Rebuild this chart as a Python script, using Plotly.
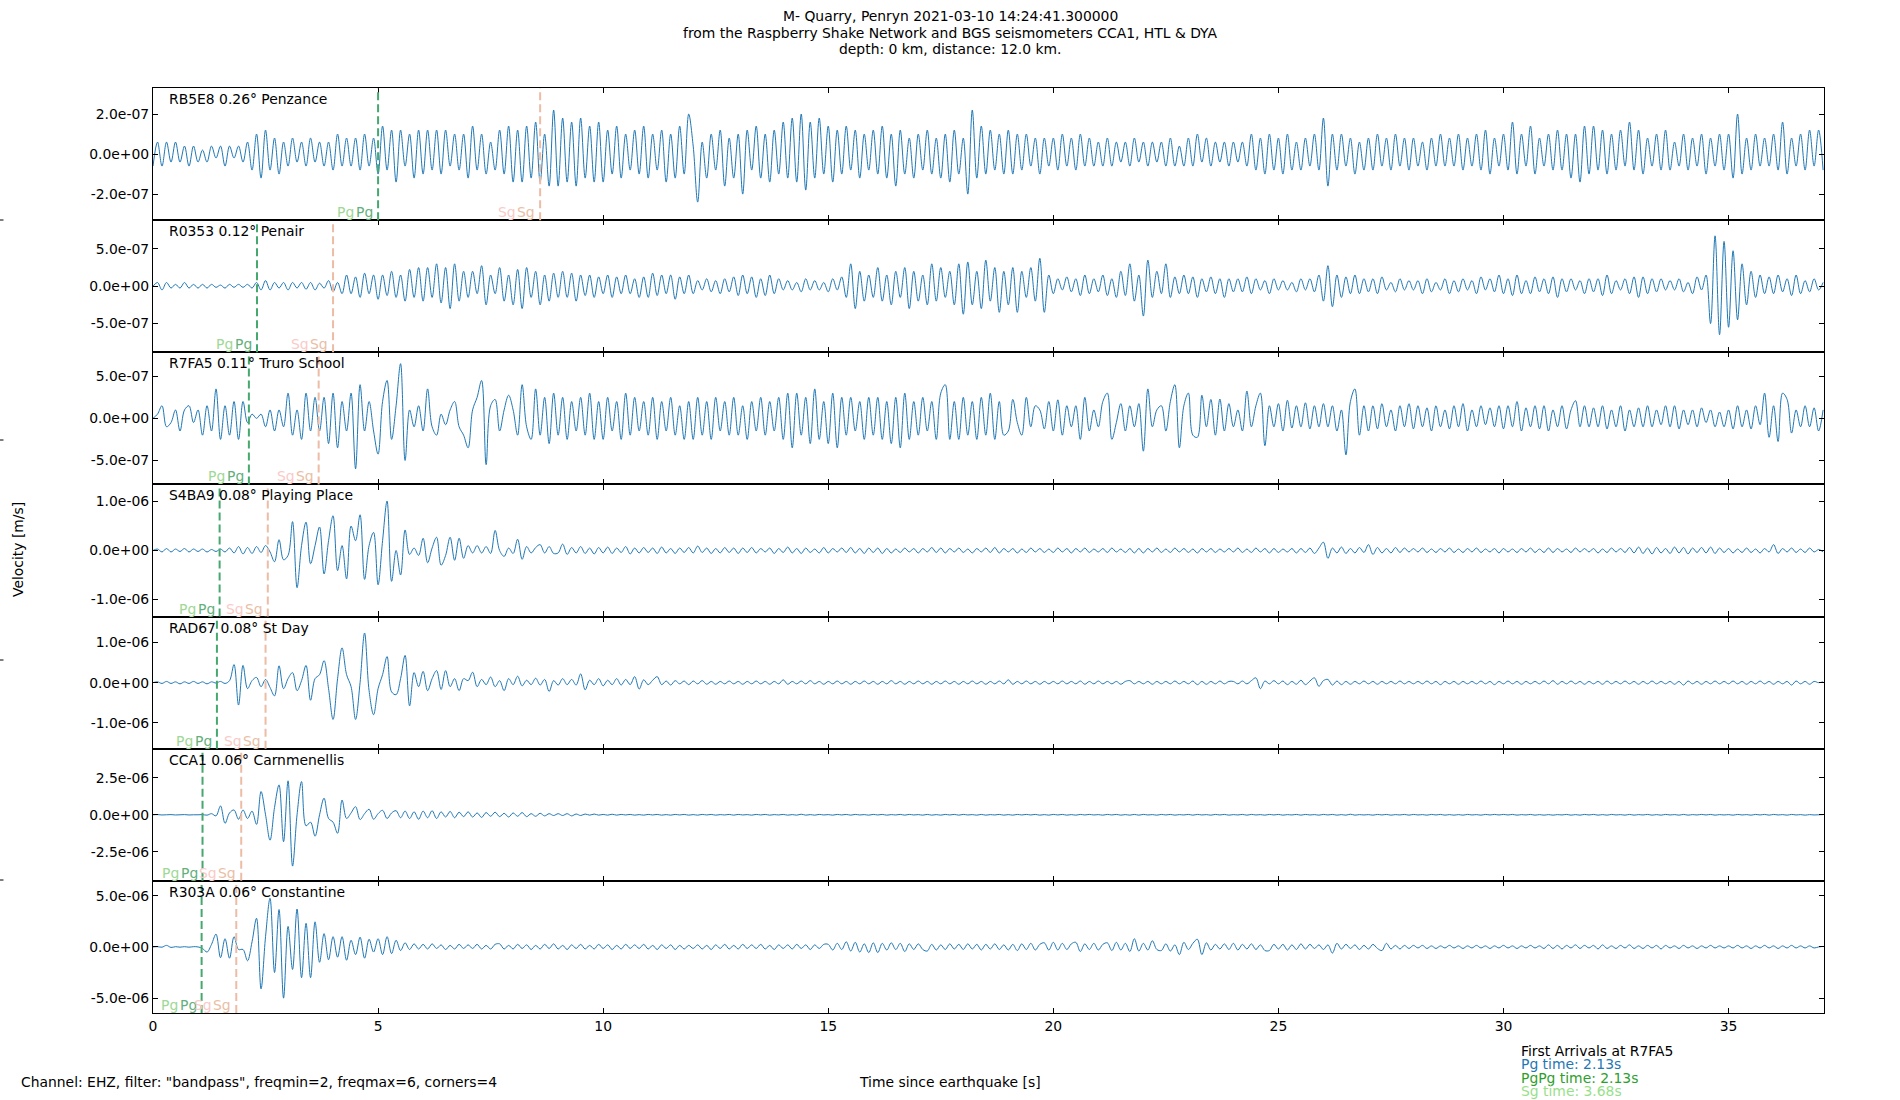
import numpy as np
import plotly.graph_objects as go
from plotly.subplots import make_subplots

# extrema, one every DT seconds, in "units" (one y tick = 10 units)
DT = 0.1

STATIONS = [
    "RB5E8 0.26° Penzance",
    "R0353 0.12° Penair",
    "R7FA5 0.11° Truro School",
    "S4BA9 0.08° Playing Place",
    "RAD67 0.08° St Day",
    "CCA1 0.06° Carnmenellis",
    "R303A 0.06° Constantine",
]
PG_TIMES = [5.0, 2.31, 2.13, 1.48, 1.42, 1.10, 1.08]
SG_TIMES = [8.6, 4.0, 3.68, 2.55, 2.5, 1.96, 1.85]
UNITS = [2e-8, 5e-8, 5e-8, 1e-7, 1e-7, 2.5e-7, 5e-7]
Y_LIMITS = [16.5, 17.7, 15.7, 13.5, 16.5, 17.9, 12.9]
X_TICKS = [0, 5, 10, 15, 20, 25, 30, 35]

PENZANCE = [
    -3, 3, -3, 3, -2, 3, -2, 2, -3, 2,
    -2, 1, -2, 2, -1, 2, -3, 2, -1, 2,
    -2, 3, -4, 5, -6, 6, -4, 4, -5, 3,
    -3, 4, -2, 3, -3, 4, -2, 3, -3, 3,
    -4, 5, -3, 4, -3, 4, -4, 5, -3, 4,
    -5, 7, -4, 6, -7, 6, -3, 5, -6, 6,
    -5, 6, -4, 6, -5, 6, -3, 5, -4, 5,
    -6, 7, -4, 5, -5, 3, -4, 6, -5, 7,
    -7, 6, -7, 7, -6, 8, -7, 5, -8, 11,
    -8, 9, -7, 8, -8, 9, -6, 7, -7, 8,
    -7, 6, -5, 7, -6, 5, -4, 6, -5, 7,
    -6, 5, -4, 6, -7, 5, -6, 7, -5, 10,
    2, -12, 3, -6, 5, -4, 6, -8, 4, -6,
    5, -10, 6, -4, 7, -6, 5, -7, 6, -5,
    8, -6, 9, -7, 10, -9, 8, -6, 9, -5,
    7, -7, 6, -5, 7, -4, 6, -6, 5, -4,
    6, -5, 7, -6, 5, -8, 6, -5, 4, -6,
    5, -4, 6, -5, 4, -6, 5, -7, 6, -5,
    4, -10, 11, -6, 7, -5, 6, -4, 5, -5,
    6, -5, 5, -4, 5, -3, 4, -5, 4, -3,
    4, -4, 5, -3, 4, -4, 5, -3, 4, -3,
    3, -3, 4, -3, 3, -2, 3, -3, 4, -2,
    3, -3, 3, -2, 3, -3, 4, -3, 2, -3,
    4, -3, 5, -2, 4, -3, 3, -2, 3, -3,
    3, -2, 3, -3, 5, -4, 4, -5, 5, -4,
    4, -5, 5, -4, 3, -4, 4, -3, 5, -4,
    9, -8, 5, -4, 5, -3, 4, -5, 3, -4,
    4, -4, 5, -3, 4, -4, 5, -3, 4, -4,
    4, -3, 3, -4, 4, -3, 5, -3, 4, -3,
    5, -4, 4, -3, 5, -4, 6, -5, 4, -3,
    5, -4, 8, -5, 5, -3, 7, -5, 4, -3,
    5, -4, 6, -4, 5, -6, 5, -7, 7, -5,
    7, -4, 6, -5, 5, -4, 6, -3, 8, -4,
    6, -5, 4, -3, 5, -4, 6, -4, 3, -3,
    5, -4, 4, -3, 5, -5, 4, -3, 5, -4,
    5, -6, 10, -5, 4, -4, 5, -3, 4, -3,
    5, -4, 8, -5, 4, -3, 5, -4, 6, -3,
    6, -4,
]

PENAIR = [
    0, 1, -1, 1, -0.5, 0.5, -0.5, 1, -0.5, 0.5,
    -0.5, 0.5, -0.5, 0.5, -0.3, 0.3, -0.5, 0.5, -0.3, 0.5,
    -0.3, 0.5, -0.5, 1, -1, 1.5, -1, 1, -0.5, 1,
    -1, 1, -0.5, 1, -0.8, 1, -1, 0.8, -0.5, 1.5,
    -1.5, 1, -2, 3, -2, 2.5, -3, 3.5, -2, 3,
    -3.5, 3, -2.5, 4, -3, 3, -4, 4.5, -3, 5,
    -4, 5, -3, 6, -4.5, 5, -6, 6, -4, 4,
    -3, 4, -2, 5.5, -5, 3, -2, 5, -4, 3,
    -5, 4.5, -6, 5, -3, 4, -5, 3, -4, 3.5,
    -3, 4, -3, 3.5, -4, 3, -2.5, 3, -3, 2.5,
    -2, 3, -3, 2.5, -2, 3, -2, 2, -3, 2.5,
    -3, 3.5, -2.5, 3, -2, 3, -3.5, 2.5, -2, 3,
    -2, 1.5, -1, 2, -1.5, 1.5, -2, 2, -1.5, 2.5,
    -2.5, 3, -2, 2.5, -3, 2, -2.5, 3, -2, 2,
    -1, 1.5, -1, 1, -1.5, 2, -1, 1.5, -1, 1,
    -1.5, 2, -1, 2.5, -3, 6, -6, 4, -4, 3,
    -3, 5, -4, 3, -5, 4, -3, 5, -6, 4,
    -4, 3, -5, 6, -4, 5, -3, 4, -5, 6,
    -7.5, 6.5, -5, 4, -6, 7, -4, 5, -7, 4,
    -5, 5, -7, 4, -3, 5, -4, 7.5, -7, 3,
    -2, 2, -1, 2.5, -1.5, 2, -2.5, 3, -2, 2,
    -1.5, 3, -2.5, 2, -3, 4, -2.5, 6, -4, 3,
    -8, 7, -3, 4, -2, 6, -3, 2.5, -2, 3,
    -2, 2.5, -3, 2, -1.5, 2.5, -2, 2, -3, 2,
    -1.5, 2, -1.5, 2.5, -2, 2, -1, 1.5, -2, 2,
    -1, 1.5, -1, 1, -1.5, 2, -1, 2, -1.5, 3,
    -4, 5.5, -5.5, 3, -3, 2.5, -2, 3, -2, 2,
    -1.5, 2, -2, 2.5, -1, 1, -1.5, 2, -1, 1.5,
    -1, 1.5, -2, 2, -1.5, 1, -1, 2, -2, 1.5,
    -1.5, 2, -1, 1.5, -2, 2.5, -1, 2, -1.5, 3,
    -2, 2, -2.5, 3, -2, 1.5, -2, 2.5, -1.5, 2,
    -2, 2.5, -3, 2, -1.5, 2, -1, 1.5, -2, 2,
    -1.5, 2, -2.5, 3, -2, 1.5, -1, 2, -2, 2.5,
    -3, 2.5, -2, 2, -1.5, 2, -1, 1.5, -1, 2,
    -1.5, 1, -2, 2.5, -1, 3, -10, 13.5, -13, 12,
    -11, 9.5, -9, 6, -5, 4, -3, 3, -2, 2.5,
    -2, 3, -1.5, 2, -2.5, 3, -2, 1.5, -1.5, 2,
    -1, 1,
]

TRURO = [
    0, 1, 3, -2, -1, 2, -3, 2, 3, -1,
    2, -4, 3, -3, 7, -5, 3, -4, 4, -5,
    4, -1, 1, 0, 1, -2, 2, -3, 2, -2,
    6, -4, 2, -5, 6, -3, 5, -3, 5, -6,
    6, -7, 4, -3, 6, -12, 8, -3, 4, -3,
    -8.5, 4, 9, -5, 3, 13, -10, 2, -2, 3,
    -3, 7, -2, -4, 1, -1.5, 2, 4, -2, -4,
    -7, 2, 5, 9, -11, 3, 4.5, -3, 2, 5.5,
    2, -4, 8, -2, -5, 7, -4, 5, -6, 6,
    -4, 5, -5, 4, -3, 5, -4, 6, -5, 4,
    -5, 5, -3, 4, -5, 6, -4, 5, -3, 4,
    -4, 5, -5, 4, -3, 5, -4, 3, -5, 4,
    -5, 5, -4, 4, -5, 5, -3, 4, -4, 5,
    -4, 3, -5, 4, -3, 5, -4, 4, -3, 5,
    -5, 6, -7, 6, -4, 5, -6, 7, -5, 4,
    -6, 6, -7, 5, -4, 5, -3, 4, -5, 5,
    -4, 5, -5, 4, -6, 5, -7, 6, -5, 4,
    -4, 5, -3, 4, -5, 6, 8, -5, 4, -5,
    5, -4, 4, -5, 5, -4, 6, -5, 4, -4,
    -3, 4.5, -1, -4, 5, -2, 3, 2, -2.5, 4,
    -3, 4.4, -4, 3, -2, 3, -5, 5, -3, 2,
    -2, 4, 6, -5, -1, 3.5, -3, 3, -2, 3.5,
    -7.8, 7, -2, 2, 3, -3, 4, 8, -7, 3,
    6, -4, -4.5, 5.5, -2, 4.5, -4, 4.6, -3, 3.5,
    -2, 2, -3, 6.5, -2, 3, 6, -6.5, 3, -2,
    3.5, -3, 4.3, -2.3, 3, -2, 3.7, -2.5, 3, -2,
    3.5, -2, 3, -3, 2, -8.7, 4, 7, -4, 3,
    -3, 3, -2.5, 3.5, -2, 2, -3, 3, -2, 3.5,
    -2.5, 3, -2, 2.5, -3, 3, -2, 2, -2.5, 3,
    -2, 3.5, -3, 2, -2, 3, -1.5, 2.5, -2, 3,
    -2.5, 3, -2, 4, -3, 2.5, -2, 3, -2.5, 3,
    -3, 2, -2, 3, -2.5, 2, 4.2, -2, 3, -2,
    2.5, -2, 3, -2.5, 2, -2, 3, -3, 2, -2,
    2.5, -2, 3, -2, 2, -1.5, 3, -2, 3, -2.5,
    2, -1.5, 2, -2, 2.5, -1, 2, -2, 1.5, -2,
    2, -2.5, 3, -2, 2, -2.5, 3, -1.5, 6, -4.5,
    3, -5.5, 6, 4.5, -3.5, 2, -2, 3, -2, 2.5,
    -3, 2,
]

PLAYING_PLACE = [
    0, 0.3, -0.3, 0.4, -0.3, 0.3, -0.2, 0.4, -0.3, 0.3,
    -0.2, 0.3, -0.3, 0.2, -0.2, 0.3, -0.3, 0.5, -0.5, 0.8,
    -0.7, 0.6, -0.6, 0.8, -0.4, 1, -0.3, -2.3, 2.2, -1.9,
    -1, 5.9, -7.6, 1, 5.8, -2.7, 1, 4.8, -4.8, 2,
    7.1, -4.1, 1, -5.8, 5, 2, 7.3, -5.9, 1, 3.7,
    -7, 2, 10.1, -6.3, 0, -5, 4.2, -0.8, 0.5, -1,
    2.5, -2.5, 0.5, 2.7, -3, -1, 2.7, -2, 2.5, -1.6,
    1, -0.5, 1, -0.5, 0.8, -0.6, 4.1, 0, -1.2, 0.5,
    -0.6, 2.3, -1.8, 0.8, -0.5, 0.6, 1.2, -0.5, 0.8, -0.6,
    -0.5, 1.3, -0.8, 0.6, -0.5, 0.8, -0.6, 0.5, -0.7, 0.6,
    -0.5, 0.7, -0.6, 0.5, -0.4, 0.8, -0.7, 0.5, -0.5, 0.6,
    -0.4, 0.5, -0.6, 0.7, -0.5, 0.4, -0.6, 0.5, -0.4, 0.6,
    -0.5, 0.9, -0.4, 0.5, -0.6, 0.4, -0.5, 0.6, -0.4, 0.5,
    -0.6, 0.5, -0.4, 0.6, -0.5, 0.4, -0.3, 0.5, -0.6, 0.4,
    -0.4, 0.7, -0.5, 0.4, -0.6, 0.5, -0.4, 0.3, -0.5, 0.6,
    -0.5, 0.4, -0.3, 0.5, -0.4, 0.6, -0.5, 0.4, -0.6, 0.5,
    -0.4, 0.5, -0.6, 0.4, -0.5, 0.3, -0.4, 0.5, -0.3, 0.4,
    -0.5, 0.4, -0.3, 0.6, -0.4, 0.5, -0.5, 0.4, -0.3, 0.5,
    -0.4, 0.3, -0.5, 0.4, -0.3, 0.5, -0.4, 0.6, -0.5, 0.4,
    -0.3, 0.4, -0.5, 0.3, -0.4, 0.5, -0.3, 0.4, -0.4, 0.3,
    -0.4, 0.5, -0.3, 0.4, -0.5, 0.4, -0.3, 0.5, -0.4, 0.3,
    -0.3, 0.4, -0.4, 0.5, -0.3, 0.3, -0.4, 0.4, -0.5, 0.4,
    -0.5, 0.4, -0.3, 0.5, -0.4, 0.3, -0.4, 0.5, -0.3, 0.4,
    -0.4, 0.3, -0.5, 0.4, -0.3, 0.4, -0.4, 0.3, -0.3, 0.4,
    -0.3, 0.5, -0.4, 0.3, -0.4, 0.5, -0.3, 0.4, -0.5, 0.4,
    -0.4, 0.3, -0.3, 0.4, -0.5, 0.4, -0.4, 0.5, -0.6, 0.5,
    1.7, -1.6, 0.5, -0.5, 0.7, -0.6, 0.4, -0.5, 0.6, -0.4,
    1.2, -0.8, 0.6, -0.5, 0.4, -0.5, 0.6, -0.4, 0.5, -0.3,
    0.4, -0.3, 0.5, -0.4, 0.3, -0.4, 0.4, -0.3, 0.5, -0.4,
    0.3, -0.4, 0.4, -0.3, 0.5, -0.4, 0.3, -0.3, 0.4, -0.5,
    0.4, -0.3, 0.3, -0.4, 0.4, -0.3, 0.5, -0.4, 0.3, -0.4,
    0.5, -0.4, 0.4, -0.3, 0.3, -0.4, 0.5, -0.3, 0.4, -0.3,
    0.4, -0.5, 0.3, -0.4, 0.5, -0.3, 0.4, -0.4, 0.6, -0.5,
    0.7, -0.6, 0.5, -0.7, 0.6, -0.5, 0.4, -0.6, 0.7, -0.5,
    0.6, -0.7, 0.5, -0.4, 0.6, -0.5, 0.7, -0.6, 0.5, -0.4,
    0.4, -0.5, 0.3, -0.4, 0.5, -0.4, 0.3, -0.5, 0.4, -0.3,
    1.2, -0.6, 0.4, -0.3, 0.5, -0.4, 0.3, -0.4, 0.5, -0.3,
    0.2, -0.3,
]

ST_DAY = [
    0, 0.2, -0.2, 0.3, -0.2, 0.2, -0.3, 0.2, -0.2, 0.3,
    -0.2, 0.2, -0.3, 0.2, -0.1, 0.3, -0.2, 0.5, 4.5, -5.6,
    4.3, -1.5, 0.5, 1.3, -1, 0.8, -1.2, -3.3, 4.2, -1.5,
    1, 2.5, -2, 0.5, 4.3, -4.4, 1, 2, 5.5, -1.5,
    -9.2, 1, 8.7, 2, -1, -9.2, 0, 12.4, -2, -8,
    -1.5, 2, 6.5, -2.3, -3, 1, 6.8, -5.8, 2.5, -1,
    2.8, -2, 1, 3, -1.7, 3, -1, 1, -2, 1,
    0.5, 2.6, -1, 0.8, -0.5, 1.4, -1, 0.5, -2, 1,
    -0.5, 1.6, -0.8, 0.6, -0.5, 1.1, -0.6, 0.8, -2.2, 0.5,
    -0.6, 1, -0.5, 0.8, -0.6, 2.2, -1.8, 0.6, -0.5, 1,
    -0.8, 0.6, -0.5, 1, -0.6, 0.8, -0.5, 1.5, -1.6, 0.7,
    -0.5, 0.6, 1.5, -0.5, 0.4, -0.6, 0.5, -0.3, 0.4, -0.5,
    0.4, -0.3, 0.5, -0.4, 0.3, -0.4, 0.3, -0.3, 0.4, -0.3,
    0.3, -0.4, 0.3, -0.3, 0.4, -0.3, 0.3, -0.4, 0.3, -0.3,
    0.7, -0.4, 0.3, -0.3, 0.4, -0.3, 0.5, -0.3, 0.3, -0.4,
    0.3, -0.3, 0.4, -0.3, 0.3, -0.4, 0.3, -0.3, 0.4, -0.3,
    0.3, -0.4, 0.3, -0.3, 0.5, -0.3, 0.3, -0.4, 0.3, -0.3,
    0.4, -0.3, 0.3, -0.4, 0.3, -0.3, 0.4, -0.3, 0.3, -0.4,
    0.3, -0.3, 0.4, -0.3, 0.3, -0.4, 0.3, -0.3, 0.4, -0.3,
    0.7, -0.4, 0.3, -0.3, 0.4, -0.3, 0.3, -0.4, 0.3, -0.3,
    0.3, -0.3, 0.4, -0.3, 0.3, -0.3, 0.4, -0.4, 0.3, -0.3,
    0.4, -0.3, 0.3, -0.3, 0.3, -0.4, 0.3, 0.5, -0.3, 0.3,
    -0.3, 0.3, -0.4, 0.3, -0.3, 0.3, -0.3, 0.4, -0.3, 0.3,
    -0.3, 0.4, -0.5, 0.3, -0.4, 0.3, -0.3, 0.4, -0.3, 0.3,
    0.3, -0.3, 0.4, -0.3, 0.5, 1.2, -1.5, 0.4, -0.3, 0.5,
    -0.3, 0.4, -0.5, 0.3, -0.4, 0.6, -0.5, 0.4, 1.2, -0.9,
    0.5, 0.8, -0.6, 0.4, -0.5, 0.3, -0.4, 0.3, -0.3, 0.4,
    -0.3, 0.3, -0.4, 0.3, -0.3, 0.3, -0.3, 0.4, -0.3, 0.3,
    -0.3, 0.3, -0.3, 0.4, -0.3, 0.3, -0.5, 0.3, -0.3, 0.3,
    -0.4, 0.3, -0.3, 0.3, -0.3, 0.4, -0.3, 0.3, -0.5, 0.3,
    -0.3, 0.4, -0.3, 0.3, -0.4, 0.3, -0.3, 0.3, -0.3, 0.4,
    -0.3, 0.5, -0.4, 0.3, -0.3, 0.4, -0.3, 0.3, -0.4, 0.3,
    -0.3, 0.3, -0.4, 0.4, -0.3, 0.3, -0.3, 0.4, -0.3, 0.3,
    -0.4, 0.3, -0.3, 0.4, -0.3, 0.3, -0.3, 0.3, -0.4, 0.3,
    -0.6, 0.4, -0.3, 0.3, -0.4, 0.3, -0.3, 0.4, -0.3, 0.3,
    -0.3, 0.4, -0.3, 0.3, -0.4, 0.3, -0.3, 0.4, -0.3, 0.3,
    -0.4, 0.3, -0.3, 0.3, -0.6, 0.4, -0.3, 0.3, -0.4, 0.3,
    0, 0.2,
]

CARNMENELLIS = [
    0, 0.05, -0.05, 0, 0.05, -0.05, 0, 0.05, -0.05, 0,
    0, 0.05, -0.1, 0.3, -0.3, 2.4, -2.3, 0.5, 1.3, -1.2,
    1.3, -1, 1, -2.6, 6.3, 0, -6.9, 2, 8.1, -7.3,
    9.2, -13.9, 0, 9, -3, -2, -5.8, 0, 4.5, -1,
    -2, -5, 4, -1, 0.5, 2.2, -1.3, 0.3, 1.5, -1.2,
    0.3, 1.2, -1, 0.5, 1.1, -0.8, 1, -1, 0.8, -1.2,
    1, -0.8, 1.1, -1, 0.8, -0.6, 0.9, -0.8, 0.7, -0.5,
    0.8, -0.6, 0.5, -0.7, 0.6, -0.4, 0.7, -0.5, 0.4, -0.6,
    0.5, -0.4, 0.6, -0.5, 0.3, -0.4, 0.4, -0.3, 0.3, -0.2,
    0.3, -0.2, 0.3, -0.3, 0.2, -0.2, 0.2, -0.1, 0.2, -0.1,
    0.1, -0.1, 0.15, -0.1, 0.1, -0.05, 0.1, -0.1, 0.05, -0.1,
    0.1, -0.05, 0.1, -0.1, 0.05, -0.1, 0.1, -0.05, 0.1, -0.1,
    0.05, -0.1, 0.1, -0.05, 0.1, -0.1, 0.05, -0.05, 0.1, -0.1,
    0.1, -0.05, 0.05, -0.1, 0.1, -0.05, 0.1, -0.1, 0.05, -0.05,
    0.1, -0.1, 0.05, -0.1, 0.15, -0.1, 0.05, -0.1, 0.1, -0.05,
    0.05, -0.1, 0.1, -0.05, 0.1, -0.1, 0.1, -0.05, 0.05, -0.1,
    0.1, -0.05, 0.1, -0.1, 0.05, -0.05, 0.1, -0.1, 0.1, -0.05,
    0.05, -0.1, 0.1, -0.1, 0.05, -0.1, 0.1, -0.05, 0.1, -0.1,
    0.1, -0.05, 0.05, -0.1, 0.1, -0.1, 0.05, -0.05, 0.1, -0.1,
    0.05, -0.1, 0.1, -0.05, 0.1, -0.05, 0.1, -0.1, 0.05, -0.1,
    0.1, -0.05, 0.1, -0.1, 0.05, -0.1, 0.1, -0.05, 0.1, -0.05,
    0.05, -0.1, 0.1, -0.05, 0.1, -0.1, 0.05, -0.1, 0.1, -0.1,
    0.1, -0.05, 0.05, -0.1, 0.1, -0.05, 0.1, -0.1, 0.05, -0.05,
    0.1, -0.1, 0.1, -0.05, 0.05, -0.1, 0.1, -0.05, 0.1, -0.1,
    0.05, -0.05, 0.1, -0.1, 0.1, -0.05, 0.05, -0.1, 0.1, -0.05,
    0.1, -0.1, 0.05, -0.05, 0.1, -0.1, 0.1, -0.05, 0.05, -0.1,
    0.1, -0.05, 0.1, -0.1, 0.05, -0.1, 0.15, -0.1, 0.05, -0.05,
    0.05, -0.1, 0.1, -0.05, 0.1, -0.1, 0.05, -0.05, 0.1, -0.1,
    0.1, -0.05, 0.05, -0.1, 0.1, -0.05, 0.1, -0.1, 0.05, -0.1,
    0.05, -0.1, 0.1, -0.05, 0.05, -0.1, 0.1, -0.05, 0.1, -0.05,
    0.1, -0.05, 0.1, -0.1, 0.05, -0.05, 0.1, -0.1, 0.05, -0.1,
    0.05, -0.1, 0.05, -0.05, 0.1, -0.1, 0.05, -0.1, 0.1, -0.05,
    0.1, -0.1, 0.05, -0.1, 0.1, -0.05, 0.05, -0.1, 0.1, -0.1,
    0.05, -0.05, 0.1, -0.1, 0.05, -0.1, 0.1, -0.05, 0.05, -0.1,
    0.1, -0.1, 0.05, -0.05, 0.1, -0.05, 0.1, -0.1, 0.05, -0.05,
    0.05, -0.1, 0.1, -0.05, 0.05, -0.1, 0.1, -0.05, 0.1, -0.1,
    0.1, -0.05, 0.05, -0.1, 0.1, -0.05, 0.05, -0.1, 0.05, -0.05,
    0, 0.05,
]

CONSTANTINE = [
    0, 0.05, -0.05, 0.3, -0.1, 0.05, -0.05, 0.05, -0.05, 0.05,
    0, -0.3, -1, 0.5, 2.5, -2.1, 1.6, -2.2, 2, -0.5,
    -0.5, -2.7, 1, 5.6, -8.2, 2, 9.5, -5, 7.3, -10,
    4, -4.4, 7.4, -6, 4.6, -6, 4.9, -3, 2.6, -2.5,
    2, -2, 2, -2.6, 1.3, -1.5, 1.9, -2.2, 1.5, -1,
    1.6, -1.5, 2, -1.3, 1.3, -0.7, 0.8, -0.5, 0.6, -0.4,
    0.5, -0.4, 0.6, -0.3, 0.4, -0.5, 0.3, -0.4, 0.5, -0.3,
    0.4, -0.3, 0.5, -0.4, 0.3, -0.4, 0.5, 0.6, -0.4, 0.3,
    -0.4, 0.5, -0.3, 0.4, -0.5, 0.3, -0.4, 0.5, -0.3, 0.6,
    -0.4, 0.3, -0.5, 0.4, -0.3, 0.5, -0.4, 0.3, -0.4, 0.5,
    -0.3, 0.4, -0.5, 0.3, -0.4, 0.5, -0.3, 0.4, -0.3, 0.5,
    -0.4, 0.3, -0.5, 0.4, -0.3, 0.4, -0.5, 0.3, -0.4, 0.3,
    -0.3, 0.4, -0.4, 0.3, -0.5, 0.4, -0.3, 0.5, -0.4, 0.3,
    -0.4, 0.5, -0.3, 0.4, -0.3, 0.5, -0.4, 0.3, -0.5, 0.4,
    -0.3, 0.4, -0.4, 0.5, -0.3, 0.4, -0.5, 0.4, -0.3, 0.5,
    0.5, -0.6, 0.7, -0.5, 1, -0.8, 0.9, -1, 0.6, -1.1,
    0.8, -1.1, 0.7, -0.6, 0.8, -0.5, 0.7, -0.9, 0.6, -0.5,
    0.6, -0.5, -0.8, 0.5, -0.6, 0.4, -0.5, 0.6, -0.4, 0.5,
    -0.5, 0.6, -0.4, 0.5, -0.6, 0.5, -0.4, 0.6, -0.5, 0.4,
    -0.6, 0.5, -0.7, 0.6, -0.5, 0.7, -0.6, 0.5, 0.8, -0.6,
    0.9, -0.6, 0.7, -0.5, 0.6, 0.9, -0.9, 0.6, -0.5, 0.7,
    -0.6, 0.5, 0.8, -0.7, 0.9, -0.6, 0.7, -0.9, 1.6, -0.8,
    0.7, -0.6, 1.2, -0.5, -0.7, 0.6, -0.8, 0.4, -1.5, 0.9,
    -0.5, 0.7, 1.5, -1.5, 0.8, -0.6, 0.5, -0.4, 0.6, -0.5,
    0.7, -0.6, 0.5, -0.4, 0.6, -0.5, 0.4, -0.7, -0.7, 0.5,
    -0.4, 0.5, -0.6, 0.4, -0.5, 0.6, -0.4, 0.5, -0.3, 0.4,
    -0.5, 0.4, -1.2, 0.7, -0.4, 0.5, -0.3, 0.4, -0.5, 0.3,
    -0.4, 0.5, -0.3, -0.7, 0.7, -0.4, 0.3, -0.4, 0.3, -0.3,
    0.3, -0.2, 0.3, -0.3, 0.2, -0.3, 0.2, -0.2, 0.3, -0.2,
    0.2, -0.3, 0.2, -0.2, 0.3, -0.2, 0.2, -0.3, 0.2, -0.2,
    0.3, -0.2, 0.2, -0.3, 0.2, -0.2, 0.3, -0.2, 0.2, -0.3,
    0.4, -0.3, 0.3, -0.4, 0.3, -0.2, 0.4, -0.3, 0.3, -0.2,
    0.3, -0.4, 0.4, -0.3, 0.2, -0.3, 0.3, -0.2, 0.4, -0.3,
    0.2, -0.3, 0.3, -0.2, 0.3, -0.4, 0.3, -0.2, 0.2, -0.3,
    0.3, -0.2, 0.2, -0.3, 0.2, -0.2, 0.3, -0.2, 0.2, -0.2,
    0.2, -0.2, 0.3, -0.2, 0.2, -0.3, 0.2, -0.2, 0.3, -0.2,
    0.2, -0.3, 0.2, -0.2, 0.3, -0.2, 0.2, -0.2, 0.2, -0.2,
    0, 0.1,
]

TRACES = [PENZANCE, PENAIR, TRURO, PLAYING_PLACE, ST_DAY, CARNMENELLIS, CONSTANTINE]

TITLE_LINES = [
    "M- Quarry, Penryn 2021-03-10 14:24:41.300000",
    "from the Raspberry Shake Network and BGS seismometers CCA1, HTL & DYA",
    "depth: 0 km, distance: 12.0 km.",
]
ARRIVALS = [
    ("First Arrivals at R7FA5", "black"),
    ("Pg time: 2.13s", "#1f77b4"),
    ("PgPg time: 2.13s", "#2ca02c"),
    ("Sg time: 3.68s", "#98df8a"),
]

FONT = "DejaVu Sans"
FS = 13.9
TRACE_COLOR = "#1f77b4"
PG_LINE = "rgb(70,168,110)"
SG_LINE = "rgb(236,188,164)"
# phase labels: (text, colour) drawn right to left from the line
PG_PARTS = [("Pg", "rgb(98,176,122)"), ("Pg", "rgb(160,216,150)")]
SG_PARTS = [("Sg", "rgb(234,190,165)"), ("Sg", "rgb(250,202,200)")]

# plot area in pixels of the 1900x1100 figure
L, R, T, B = 153, 1824, 88, 1013


def px_x(px):
    return (px - L) / (R - L)


def px_y(py):
    return (B - py) / (B - T)


n_rows = len(TRACES)
fig = make_subplots(rows=n_rows, cols=1, shared_xaxes=True, vertical_spacing=0)

for i, trace in enumerate(TRACES):
    row = i + 1
    unit = UNITS[i]
    ax = "" if i == 0 else str(row)
    t = np.arange(len(trace)) * DT
    fig.add_trace(go.Scatter(
        x=t, y=np.array(trace) * unit,
        mode="lines",
        line=dict(color=TRACE_COLOR, width=1, shape="spline", smoothing=1.0),
        showlegend=False, hoverinfo="skip",
    ), row=row, col=1)

    fig.add_vline(x=PG_TIMES[i], line=dict(color=PG_LINE, width=2, dash="8px,4px"), row=row, col=1)
    fig.add_vline(x=SG_TIMES[i], line=dict(color=SG_LINE, width=2, dash="8px,4px"), row=row, col=1)

    for tp, parts in ((PG_TIMES[i], PG_PARTS), (SG_TIMES[i], SG_PARTS)):
        for k, (txt, col) in enumerate(parts):
            fig.add_annotation(
                x=tp, xref=f"x{ax}", y=0, yref=f"y{ax} domain",
                xanchor="right", yanchor="bottom", xshift=-3 - 19 * k, yshift=-2,
                text=txt, showarrow=False, font=dict(family=FONT, size=FS, color=col),
            )

    fig.add_annotation(
        x=0, xref=f"x{ax} domain", y=1, yref=f"y{ax} domain",
        xanchor="left", yanchor="top", xshift=14, yshift=-1,
        text=STATIONS[i], showarrow=False, font=dict(family=FONT, size=FS, color="black"),
    )

    lim = Y_LIMITS[i]
    tick_vals = [-10 * unit, 0.0, 10 * unit]
    fig.update_yaxes(
        range=[-lim * unit, lim * unit],
        tickvals=tick_vals,
        ticktext=[f"{v:.1e}" for v in tick_vals],
        row=row, col=1,
    )

fig.update_xaxes(
    range=[0, 37.12], tickvals=X_TICKS,
    showline=True, linecolor="black", linewidth=1.2, mirror="ticks",
    ticks="inside", ticklen=5, tickwidth=1, tickcolor="black",
    showgrid=False, zeroline=False,
    tickfont=dict(family=FONT, size=FS, color="black"),
)
fig.update_yaxes(
    showline=True, linecolor="black", linewidth=1.2, mirror="ticks",
    ticks="inside", ticklen=5, tickwidth=1, tickcolor="black",
    showgrid=False, zeroline=False,
    tickfont=dict(family=FONT, size=FS, color="black"),
)

# title, axis captions and the footer texts
for k, line in enumerate(TITLE_LINES):
    fig.add_annotation(
        x=px_x(950), y=px_y(16.5 + 16.5 * k), xref="paper", yref="paper",
        xanchor="center", yanchor="middle", text=line, showarrow=False,
        font=dict(family=FONT, size=FS, color="black"),
    )

fig.add_annotation(
    x=px_x(18), y=px_y(550), xref="paper", yref="paper", textangle=-90,
    xanchor="center", yanchor="middle", text="Velocity [m/s]", showarrow=False,
    font=dict(family=FONT, size=FS, color="black"),
)
fig.add_annotation(
    x=px_x(950), y=px_y(1082), xref="paper", yref="paper",
    xanchor="center", yanchor="middle", text="Time since earthquake [s]", showarrow=False,
    font=dict(family=FONT, size=FS, color="black"),
)
fig.add_annotation(
    x=px_x(19), y=px_y(1082), xref="paper", yref="paper",
    xanchor="left", yanchor="middle",
    text='Channel: EHZ, filter: "bandpass", freqmin=2, freqmax=6, corners=4',
    showarrow=False, font=dict(family=FONT, size=FS, color="black"),
)
for k, (line, color) in enumerate(ARRIVALS):
    fig.add_annotation(
        x=px_x(1519), y=px_y(1051 + 13.3 * k), xref="paper", yref="paper",
        xanchor="left", yanchor="middle", text=line, showarrow=False,
        font=dict(family=FONT, size=FS, color=color),
    )

# stray ticks of the hidden full-figure axes at the left edge
for frac in (0.2, 0.4, 0.6, 0.8):
    fig.add_shape(
        type="line", xref="paper", yref="paper",
        x0=px_x(0), x1=px_x(3.5), y0=px_y(1100 * frac), y1=px_y(1100 * frac),
        line=dict(color="black", width=1),
    )

fig.update_layout(
    width=1900, height=1100,
    margin=dict(l=L, r=1900 - R, t=T, b=1100 - B),
    plot_bgcolor="white", paper_bgcolor="white",
    font=dict(family=FONT, size=FS, color="black"),
    showlegend=False,
)

# the page's default body margin would push the figure 8px off the window
fig.write_html(
    "out.html",
    config={"displayModeBar": False},
    post_script="document.body.style.margin='0';",
)
